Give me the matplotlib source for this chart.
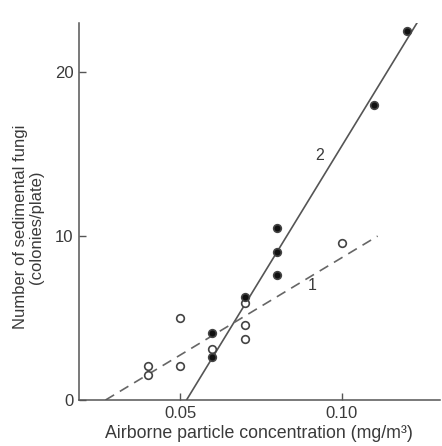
import numpy as np
import matplotlib
matplotlib.use('Agg')
import matplotlib.pyplot as plt

# filled circles (series 2)
x2 = [0.06, 0.06, 0.07, 0.08, 0.08, 0.08, 0.11, 0.12]
y2 = [2.6, 4.1, 6.3, 7.6, 9.0, 10.5, 18.0, 22.5]
# open circles (series 1)
x1 = [0.04, 0.04, 0.05, 0.05, 0.06, 0.07, 0.07, 0.07, 0.10]
y1 = [1.5, 2.1, 2.1, 5.0, 3.1, 3.7, 4.6, 5.9, 9.6]

# regression lines, (x start, x end) and (y start, y end)
line1_x = [0.027, 0.111]
line1_y = [0.0, 10.0]
line2_x = [0.052, 0.125]
line2_y = [0.0, 23.6]

ink = '#3a3a3a'
plt.rcParams['font.family'] = ['Liberation Sans', 'DejaVu Sans']

fig = plt.figure(figsize=(4.42, 4.46), dpi=100)
ax = fig.add_axes([0.1787, 0.1031, 0.8163, 0.8453])

ax.plot(line2_x, line2_y, color='#555555', lw=1.2)
ax.plot(line1_x, line1_y, color='#666666', lw=1.2, dashes=(6, 4))

ax.plot(x1, y1, 'o', ms=5.5, mfc='white', mec='#444444', mew=1.2)
ax.plot(x2, y2, 'o', ms=5.5, mfc='#111111', mec='#444444', mew=1.2)

ax.text(0.0932, 14.9, '2', fontsize=11.5, color=ink, ha='center', va='center')
ax.text(0.0907, 7.0, '1', fontsize=11.5, color=ink, ha='center', va='center')

ax.set_xlim(0.0188, 0.1302)
ax.set_ylim(0, 23.0)
ax.set_xticks([0.05, 0.10])
ax.set_xticklabels(['0.05', '0.10'])
ax.set_yticks([0, 10, 20])
ax.tick_params(direction='in', length=5, width=1, color='#555555',
               labelsize=12, labelcolor=ink, pad=4)

for s in ['top', 'right']:
    ax.spines[s].set_visible(False)
for s in ['left', 'bottom']:
    ax.spines[s].set_color('#555555')
    ax.spines[s].set_linewidth(1.1)

ax.set_xlabel('Airborne particle concentration (mg/m³)', fontsize=12.8,
              color=ink, labelpad=3)
ax.set_ylabel('Number of sedimental fungi\n(colonies/plate)', fontsize=12,
              color=ink, linespacing=1.05)
ax.yaxis.set_label_coords(-0.097, 0.459)

fig.savefig('out.png', dpi=100)
